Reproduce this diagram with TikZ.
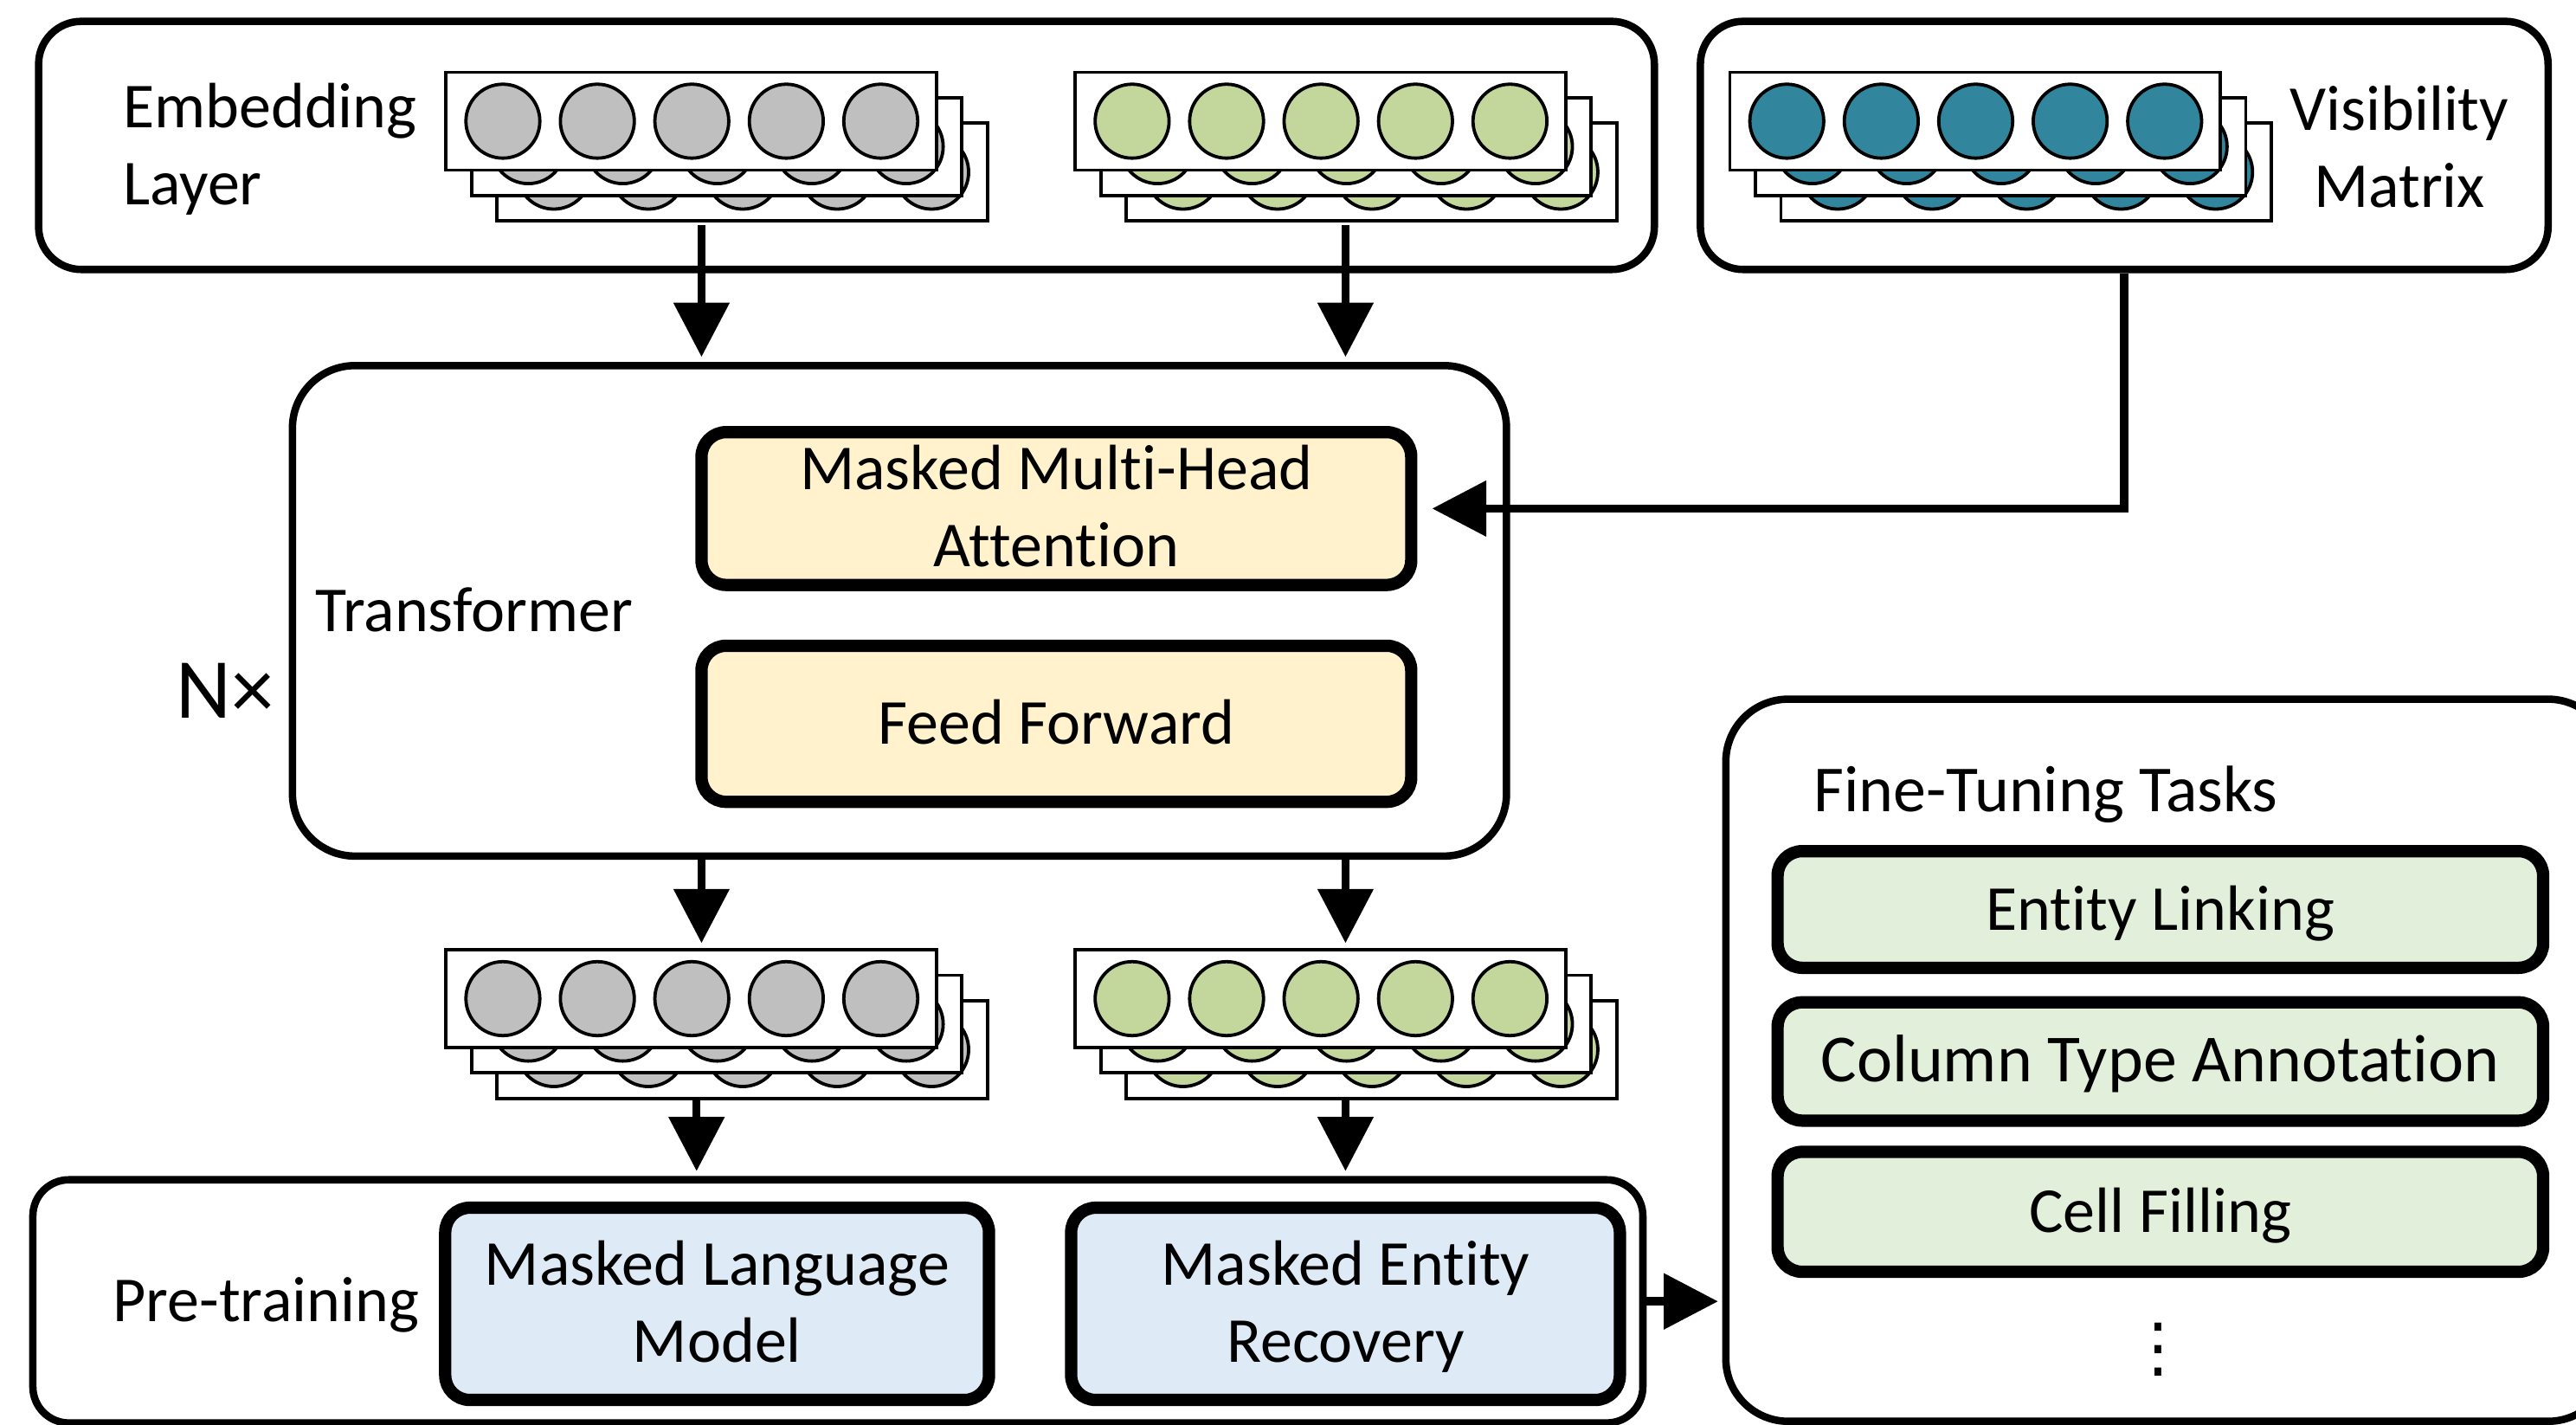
\documentclass[tikz,border=0pt]{standalone}
\usepackage{fontspec}
\setmainfont{Carlito}[Ligatures=NoCommon]
\newfontfamily\symfont{DejaVu Sans}
\usetikzlibrary{arrows.meta}

\definecolor{tokgray}{HTML}{BFBFBF}
\definecolor{tokgreen}{HTML}{C3D69B}
\definecolor{tokteal}{HTML}{31859C}
\definecolor{attnfill}{HTML}{FFF2CC}
\definecolor{pretfill}{HTML}{DEEBF7}
\definecolor{taskfill}{HTML}{E2EFDA}

% three stacked token vectors: #1 name, #2 left x, #3 top y, #4 token colour
\newcommand\tokenstack[4]{%
  \foreach \k in {2,1,0}{%
    \node[veclayer] (#1-\k) at ({#2+149.25+15.5*\k},{#3+29.75+15.5*\k}) {};
    \foreach \i in {0,...,4}{%
      \node[token, fill=#4] (#1-\k-\i) at ({#2+34.6+57.5*\i+15.5*\k},{#3+29.75+15.5*\k}) {};
    }%
  }%
}

\tikzset{
  outerbox/.style={draw, line width=4.5pt, rounded corners=26pt, fill=white, inner sep=0pt},
  innerbox/.style={draw, line width=7.5pt, rounded corners=15pt, inner sep=0pt, align=center},
  oneline/.style={text height=27pt, text depth=2pt},
  % multi-line boxes sit on their last baseline; 47pt per extra line
  twoline/.style={text height=73pt, text depth=2pt},
  veclayer/.style={draw, fill=white, line width=2pt, minimum width=298.5pt, minimum height=59.5pt, inner sep=0pt},
  token/.style={circle, draw, line width=2pt, minimum size=45pt, inner sep=0pt},
  flow/.style={line width=5pt, line join=miter, -{Triangle[length=33pt,width=33pt]}},
  lbl/.style={inner sep=0pt},
}

\begin{document}
\begin{tikzpicture}[x=1pt, y=-1pt, font=\fontsize{39pt}{47pt}\selectfont]
\useasboundingbox[fill=white] (0,0) rectangle (1568,866.75);

% input side
\node[outerbox, minimum width=983.5pt, minimum height=151pt] (emb) at (515.25,88.5) {};
\node[outerbox, minimum width=516pt, minimum height=151pt] (vis) at (1293,88.5) {};
\node[lbl, align=left, anchor=north west, twoline] (embl) at (74.7,51.4) {Embedding\\Layer};
\node[lbl, align=center, anchor=north, twoline] (visl) at (1460.5,53) {Visibility\\Matrix};

\tokenstack{gin}{271.5}{44}{tokgray}
\tokenstack{ein}{654.5}{44}{tokgreen}
\tokenstack{vm}{1053}{44}{tokteal}

% transformer block
\node[outerbox, rounded corners=38pt, minimum width=739pt, minimum height=298.5pt] (tf) at (547.5,371.75) {};
\node[lbl, anchor=base west] (tfl) at (192,384.4) {Transformer};
\node[lbl, anchor=base west, font=\fontsize{52pt}{60pt}\selectfont] (nx) at (107,437) {N×};
\node[innerbox, fill=attnfill, minimum width=432pt, minimum height=93pt, twoline] (mmha) at (643,309.5) {Masked Multi-Head\\Attention};
\node[innerbox, fill=attnfill, minimum width=432pt, minimum height=95pt, oneline] (ffn) at (643,440.5) {Feed Forward};

% outputs
\tokenstack{gout}{271.5}{578}{tokgray}
\tokenstack{eout}{654.5}{578}{tokgreen}

% pre-training objectives
\node[outerbox, rounded corners=22pt, minimum width=980pt, minimum height=148pt] (pre) at (510,792) {};
\node[lbl, anchor=base west] (prel) at (68.5,804.4) {Pre-training};
\node[innerbox, fill=pretfill, minimum width=331pt, minimum height=117pt, twoline] (mlm) at (436.5,793.5) {Masked Language\\Model};
\node[innerbox, fill=pretfill, minimum width=334pt, minimum height=117pt, twoline] (mer) at (819,793.5) {Masked Entity\\Recovery};

% fine-tuning tasks
\node[outerbox, rounded corners=38pt, minimum width=538.5pt, minimum height=439.5pt] (ft) at (1319.75,645.25) {};
\node[lbl, anchor=base west, font=\fontsize{40pt}{47pt}\selectfont] (ftl) at (1104,494) {Fine-Tuning Tasks};
\node[innerbox, fill=taskfill, minimum width=466pt, minimum height=71pt, oneline] (el) at (1315,553.5) {Entity Linking};
\node[innerbox, fill=taskfill, minimum width=466pt, minimum height=72pt, oneline, font=\fontsize{41pt}{47pt}\selectfont] (cta) at (1315,646) {Column Type Annotation};
\node[innerbox, fill=taskfill, minimum width=466pt, minimum height=73pt, oneline] (cf) at (1315,737.5) {Cell Filling};
\node[lbl, font=\symfont\fontsize{40pt}{47pt}\selectfont] (more) at (1314,821.3) {⋮};

% connectors
\coordinate (gin-out) at (427,137);
\coordinate (ein-out) at (819,137);
\coordinate (gout-out) at (424,668);
\coordinate (eout-out) at (819,668);
\draw[flow, shorten >=3pt] (gin-out) -- (gin-out |- tf.north);
\draw[flow, shorten >=3pt] (ein-out) -- (ein-out |- tf.north);
\draw[flow, shorten >=3pt] (gin-out |- tf.south) -- (gin-out |- gout-0.north);
\draw[flow, shorten >=3pt] (ein-out |- tf.south) -- (ein-out |- eout-0.north);
\draw[flow, shorten >=3pt] (gout-out) -- (gout-out |- pre.north);
\draw[flow, shorten >=3pt] (eout-out) -- (eout-out |- pre.north);
\draw[flow, shorten >=9pt] (vis.south) |- (mmha.east);
\draw[flow, shorten >=2.5pt] (pre.east) -- (pre.east -| ft.west);
\end{tikzpicture}
\end{document}
